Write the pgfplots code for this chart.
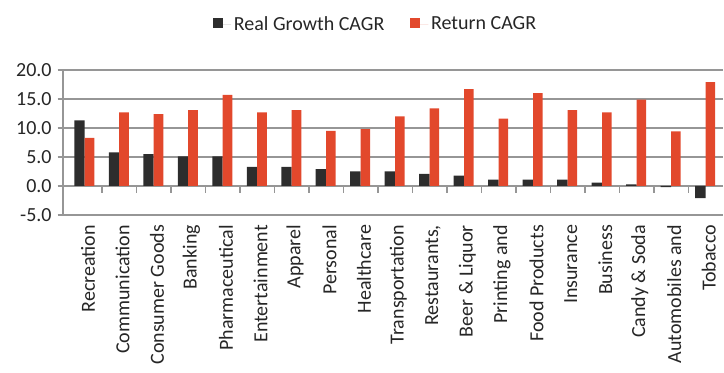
\documentclass[border=0pt]{standalone}
\usepackage{pgfplots}
\usepackage{pgfplotstable}
\pgfplotsset{compat=1.18}
\usepackage{fontspec}
\setmainfont{Carlito}
\definecolor{realc}{RGB}{45,45,45}
\definecolor{retc}{RGB}{226,72,44}
\definecolor{gridc}{RGB}{150,150,150}
\pgfplotstableread{
idx real ret
0 11.3 8.3
1 5.8 12.7
2 5.5 12.4
3 5.1 13.1
4 5.1 15.7
5 3.3 12.7
6 3.3 13.1
7 2.9 9.5
8 2.5 9.8
9 2.5 12.0
10 2.1 13.4
11 1.8 16.7
12 1.1 11.6
13 1.1 16.0
14 1.1 13.1
15 0.6 12.7
16 0.3 14.9
17 -0.2 9.4
18 -2.1 17.9
}\data
\begin{document}
\begin{tikzpicture}
\begin{axis}[
  at={(0,0)}, anchor=south west,
  scale only axis, width=494.8pt, height=108.75pt,
  xmin=-0.63, xmax=18.5, ymin=-5, ymax=20,
  ytick={-5,0,5,10,15,20},
  /pgf/number format/assume math mode=true,
  yticklabel style={/pgf/number format/fixed, /pgf/number format/fixed zerofill, /pgf/number format/precision=1, xshift=-1pt},
  xtick={0,...,18},
  xticklabels={Recreation, Communication, Consumer Goods, Banking, Pharmaceutical, Entertainment, Apparel, Personal, Healthcare, Transportation, {Restaurants,}, Beer \& Liquor, Printing and, Food Products, Insurance, Business, Candy \& Soda, Automobiles and, Tobacco},
  xticklabel style={rotate=90, anchor=east, yshift=-2.5pt},
  tick label style={font=\fontsize{15}{18}\selectfont, text=black!85},
  axis y line*=left, axis x line*=bottom,
  axis line style={-},
  x axis line style={draw=none},
  y axis line style={gridc, line width=1.1pt},
  major x tick style={draw=none},
  major y tick style={gridc, line width=1.1pt},
  tick align=outside, major tick length=4pt,
  ymajorgrids, grid style={gridc, line width=1.1pt},
  legend style={at={(0.474,1.315)}, anchor=center, draw=none, fill=none,
    font=\fontsize{15}{18}\selectfont, text=black!85, legend columns=2,
    /tikz/every even column/.append style={column sep=17pt}},
  legend cell align=left,
  legend image code/.code={\fill[#1,draw=none] (0pt,-3pt) rectangle (7.5pt,4.5pt); \path (7.5pt,0) -- (14pt,0);},
]
\addplot[ybar, bar width=7.8pt, bar shift=-3.9pt, fill=realc, draw=none] table[x=idx,y=real]{\data};
\addlegendentry{Real Growth CAGR}
\addplot[ybar, bar width=7.2pt, bar shift=3.6pt, fill=retc, draw=none] table[x=idx,y=ret]{\data};
\addlegendentry{Return CAGR}
\pgfplotsinvokeforeach{0,...,17}{
  \draw[gridc, line width=1.1pt] (axis cs:#1+0.5,0) -- ([yshift=-5pt]axis cs:#1+0.5,0);
}
\end{axis}
\pgfresetboundingbox
\path[use as bounding box] (-47.25pt,-118.5pt) rectangle (495.75pt,161.25pt);
\end{tikzpicture}
\end{document}
